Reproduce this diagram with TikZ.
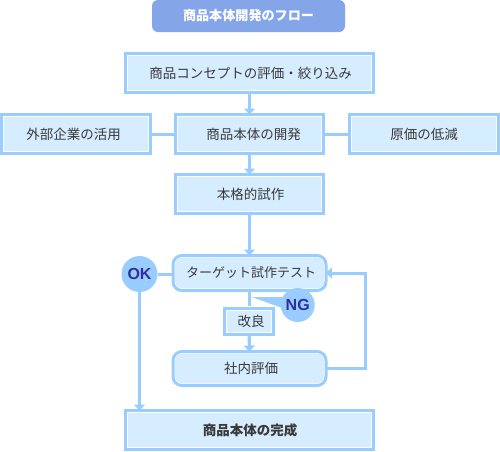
\documentclass[tikz,border=0pt]{standalone}
\usepackage{fontspec}
\setmainfont{Noto Sans CJK JP}
\setsansfont{Liberation Sans}
\usetikzlibrary{arrows.meta}
\definecolor{edgeblue}{HTML}{99CCFF}
\definecolor{fillblue}{HTML}{D6ECFF}
\definecolor{titleblue}{HTML}{84A5E8}
\definecolor{inkgray}{HTML}{3A3A3A}
\definecolor{badgeink}{HTML}{2E2EA0}
\tikzset{
  x=1pt,y=-1pt,
  basebox/.style={fill=fillblue,draw=white,line width=4.4pt,text=inkgray,inner sep=0pt,outer sep=0pt,
    font=\fontsize{13.5}{15}\selectfont,align=center,
    postaction={draw=edgeblue,line width=3pt,fill=none}},
  flowbox/.style={basebox,rectangle},
  softbox/.style={basebox,rectangle,rounded corners=9pt},
  badge/.style={circle,fill=edgeblue,text=badgeink,inner sep=0pt,outer sep=0pt,font=\sffamily\bfseries\fontsize{16}{18}\selectfont},
  conn/.style={draw=edgeblue,line width=3pt},
  arr/.style={conn,-{Triangle[width=11pt,length=6pt]}},
}
\begin{document}
\begin{tikzpicture}
\useasboundingbox (0,0) rectangle (500,451);
\node[rectangle,rounded corners=6pt,fill=titleblue,text=white,minimum width=193pt,minimum height=32pt,inner sep=0pt,font=\bfseries\fontsize{13.1}{15}\selectfont] (title) at (248.5,16) {商品本体開発のフロー};
\node[flowbox,minimum width=248pt,minimum height=39pt] (concept) at (249.5,73) {\hspace{2pt}商品コンセプトの評価・絞り込み};
\node[flowbox,minimum width=149pt,minimum height=39pt] (outside) at (76,134) {外部企業の活用\hspace{5pt}};
\node[flowbox,minimum width=148pt,minimum height=39pt] (main) at (249.5,134) {\hspace{8pt}商品本体の開発};
\node[flowbox,minimum width=149pt,minimum height=39pt] (cost) at (424,134) {原価の低減};
\node[flowbox,minimum width=148pt,minimum height=39pt] (proto) at (249.5,194) {\hspace{2pt}本格的試作};
\node[softbox,minimum width=153pt,minimum height=35pt,font=\fontsize{13}{15}\selectfont] (target) at (249.5,273) {\hspace{3pt}ターゲット試作テスト};
\node[softbox,minimum width=153pt,minimum height=34pt] (review) at (249.5,368.5) {\hspace{3pt}社内評価};
\node[flowbox,minimum width=248pt,minimum height=39pt,font=\bfseries\fontsize{13.5}{15}\selectfont] (done) at (249.5,430) {\hspace{1pt}商品本体の完成};
\coordinate (tip) at (251.7,297);
\coordinate (loop) at (365,320);
\draw[conn] (proto.south) -- (target.north);
\draw[conn] (target.south) -- (249.5,350);
\node[flowbox,minimum width=49pt,minimum height=26pt] (fix) at (249,321.5) {\hspace{4pt}改良};
\node[badge,minimum size=36pt] (ok) at (139.5,274) {OK};
\fill[edgeblue] (tip) -- (285,297) -- (285,309) -- cycle;
\node[badge,minimum size=34pt] (ng) at (297.7,305) {NG};
\draw[arr] (concept.south) -- (main.north);
\draw[conn] (outside.east) -- (main.west);
\draw[conn] (main.east) -- (cost.west);
\draw[arr] (main.south) -- (proto.north);
\draw[arr] (proto.south) -- (target.north);
\draw[arr] (fix.south) -- (review.north);
\draw[conn] (ok.east) -- (ok.east -| target.west);
\draw[arr] (ok.south) -- (ok.south |- done.north);
\draw[arr] (review.east) -- (review.east -| loop) -- (target.east -| loop) -- (target.east);
\end{tikzpicture}
\end{document}
